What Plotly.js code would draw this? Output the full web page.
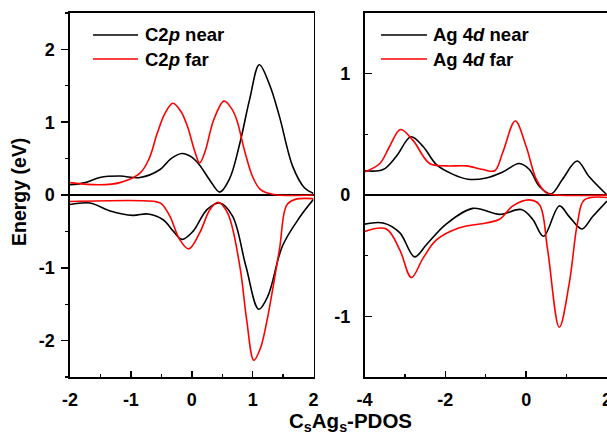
<!DOCTYPE html>
<html>
<head>
<meta charset="utf-8">
<script src="https://cdn.plot.ly/plotly-3.0.1.min.js"></script>
<style>html,body{margin:0;padding:0;background:#fff}#chart{width:607px;height:437px}</style>
</head>
<body>
<div id="chart"></div>
<script>
// ---- C2p PDOS (left panel) ----
const c2pNearUpE   = [-2, -1.75, -1.51, -1.18, -0.85, -0.52, -0.34, -0.16, 0.0, 0.13, 0.3, 0.46, 0.62, 0.79, 0.95, 1.11, 1.28, 1.44, 1.66, 1.85, 2];
const c2pNearUpV   = [0.14, 0.17, 0.24, 0.26, 0.24, 0.35, 0.5, 0.57, 0.52, 0.41, 0.2, 0.04, 0.22, 0.71, 1.31, 1.79, 1.51, 1.08, 0.39, 0.1, 0.02];
const c2pFarUpE    = [-2, -1.51, -1.18, -0.85, -0.7, -0.57, -0.44, -0.31, -0.18, -0.07, 0.05, 0.13, 0.22, 0.36, 0.53, 0.66, 0.74, 0.87, 1.0, 1.12, 1.23, 1.4, 2];
const c2pFarUpV    = [0.17, 0.14, 0.17, 0.30, 0.5, 0.84, 1.12, 1.26, 1.15, 0.94, 0.6, 0.44, 0.6, 1.03, 1.29, 1.18, 1.03, 0.6, 0.25, 0.08, 0.03, 0.0, 0.0];
const c2pNearDnE   = [-2, -1.67, -1.34, -0.97, -0.72, -0.47, -0.3, -0.16, 0.02, 0.25, 0.46, 0.67, 0.89, 1.10, 1.25, 1.49, 1.77, 2];
const c2pNearDnV   = [-0.13, -0.11, -0.22, -0.28, -0.26, -0.34, -0.5, -0.61, -0.50, -0.2, -0.11, -0.29, -0.98, -1.57, -1.39, -0.70, -0.31, -0.06];
const c2pFarDnE    = [-2, -0.6, -0.5, -0.36, -0.2, -0.05, 0.13, 0.3, 0.43, 0.59, 0.79, 0.9, 1.02, 1.13, 1.23, 1.44, 1.56, 1.7, 2];
const c2pFarDnV    = [-0.09, -0.09, -0.12, -0.29, -0.61, -0.74, -0.52, -0.2, -0.10, -0.25, -0.98, -1.7, -2.27, -2.1, -1.75, -0.75, -0.14, -0.06, -0.05];

// ---- Ag 4d PDOS (right panel) ----
const ag4dNearUpE  = [-4, -3.54, -3.21, -2.85, -2.55, -2.22, -1.81, -1.44, -0.99, -0.58, -0.17, 0.08, 0.33, 0.62, 0.90, 1.26, 1.56, 2];
const ag4dNearUpV  = [0.20, 0.21, 0.32, 0.48, 0.40, 0.25, 0.17, 0.13, 0.14, 0.19, 0.26, 0.21, 0.07, 0.01, 0.13, 0.28, 0.15, 0.0];
const ag4dFarUpE   = [-4, -3.62, -3.38, -3.11, -2.80, -2.39, -1.98, -1.48, -1.07, -0.78, -0.58, -0.27, 0.0, 0.25, 0.49, 0.8, 2];
const ag4dFarUpV   = [0.19, 0.26, 0.40, 0.54, 0.45, 0.26, 0.24, 0.24, 0.21, 0.20, 0.35, 0.61, 0.40, 0.13, 0.02, 0.0, 0.0];
const ag4dNearDnE  = [-4, -3.54, -3.13, -2.76, -2.47, -1.98, -1.32, -0.66, -0.12, 0.16, 0.43, 0.82, 1.07, 1.38, 1.64, 2];
const ag4dNearDnV  = [-0.24, -0.23, -0.31, -0.51, -0.41, -0.24, -0.11, -0.16, -0.12, -0.20, -0.34, -0.09, -0.18, -0.28, -0.18, -0.05];
const ag4dFarDnE   = [-4, -3.46, -3.13, -2.84, -2.55, -2.22, -1.65, -0.99, -0.66, -0.33, 0.08, 0.33, 0.53, 0.82, 1.07, 1.27, 1.44, 2];
const ag4dFarDnV   = [-0.30, -0.28, -0.45, -0.68, -0.52, -0.37, -0.27, -0.23, -0.20, -0.09, -0.04, -0.08, -0.45, -1.09, -0.72, -0.23, -0.04, -0.02];

// ---- tick labels (hyphen minus, as in the reference) ----
const xLeftTicks   = [-2, -1, 0, 1, 2];
const xLeftLabels  = ['-2', '-1', '0', '1', '2'];
const yLeftTicks   = [-2, -1, 0, 1, 2];
const yLeftLabels  = ['-2', '-1', '0', '1', '2'];
const xRightTicks  = [-4, -2, 0, 2];
const xRightLabels = ['-4', '-2', '0', '2'];
const yRightTicks  = [-1, 0, 1];
const yRightLabels = ['-1', '0', '1'];

const legendLeft  = ['C2<i>p</i> near', 'C2<i>p</i> far'];
const legendRight = ['Ag 4<i>d</i> near', 'Ag 4<i>d</i> far'];
const yTitle = 'Energy (eV)';
const xTitle = 'C<sub>s</sub>Ag<sub>s</sub>-PDOS';

const W = 607, H = 437;
const px = v => v / W, py = v => 1 - v / H;
const FONT = 'Liberation Sans, Arial, Helvetica, sans-serif';
const BLACK = '#000000', RED = '#ff0000';
const bold = arr => arr.map(s => '<b>' + s + '</b>');

function tr(x, y, color, xa, ya) {
  return {x: x, y: y, type: 'scatter', mode: 'lines', xaxis: xa, yaxis: ya, showlegend: false,
          hoverinfo: 'skip', line: {color: color, width: 1.6, shape: 'spline', smoothing: 1}};
}
const data = [
  tr(c2pNearUpE, c2pNearUpV, BLACK, 'x', 'y'),
  tr(c2pFarUpE, c2pFarUpV, RED, 'x', 'y'),
  tr(c2pNearDnE, c2pNearDnV, BLACK, 'x', 'y'),
  tr(c2pFarDnE, c2pFarDnV, RED, 'x', 'y'),
  tr(ag4dNearUpE, ag4dNearUpV, BLACK, 'x2', 'y2'),
  tr(ag4dFarUpE, ag4dFarUpV, RED, 'x2', 'y2'),
  tr(ag4dNearDnE, ag4dNearDnV, BLACK, 'x2', 'y2'),
  tr(ag4dFarDnE, ag4dFarDnV, RED, 'x2', 'y2')
];

const tickFont = {family: FONT, size: 18, color: '#000', weight: 700};
const yDom = [1 - 377 / H, 1 - 13 / H];
function xAxis(dom, range, tv, tt, minorDtick) {
  return {domain: dom, range: range, tickmode: 'array', tickvals: tv, ticktext: bold(tt),
          showgrid: false, zeroline: false, ticklabeloverflow: 'allow',
          showline: true, linecolor: '#000', linewidth: 1.6, mirror: true,
          ticks: 'inside', ticklen: 6, tickwidth: 1.5, tickcolor: '#000', ticklabelstandoff: 6,
          minor: {dtick: minorDtick, tick0: 0, ticks: 'inside', ticklen: 3, tickwidth: 1.2, tickcolor: '#000', showgrid: false},
          tickfont: tickFont, fixedrange: true};
}
function yAxis(anchor, range, tv, tt, ticks, standoff) {
  return {domain: yDom, anchor: anchor, range: range, tickmode: 'array', tickvals: tv, ticktext: bold(tt),
          showgrid: false, ticklabeloverflow: 'allow',
          zeroline: true, zerolinecolor: '#000', zerolinewidth: 1.6,
          showline: true, linecolor: '#000', linewidth: 1.6, mirror: true,
          ticks: ticks, ticklen: 7, tickwidth: 1.5, tickcolor: '#000', ticklabelstandoff: standoff,
          minor: {dtick: 0.5, tick0: 0, ticks: ticks, ticklen: 3, tickwidth: 1.2, tickcolor: '#000', showgrid: false},
          tickfont: tickFont, fixedrange: true};
}

const shapes = [], annotations = [];
function legendRows(labels, x0, x1, tx) {
  [BLACK, RED].forEach((c, i) => {
    const yy = 35 + i * 24;
    shapes.push({type: 'line', xref: 'paper', yref: 'paper', x0: px(x0), x1: px(x1), y0: py(yy), y1: py(yy),
                 line: {color: c, width: 1.6}});
    annotations.push({xref: 'paper', yref: 'paper', x: px(tx), y: py(yy), xanchor: 'left', yanchor: 'middle',
                      text: '<b>' + labels[i] + '</b>', showarrow: false,
                      font: {family: FONT, size: 18.5, color: '#000'}});
  });
}
legendRows(legendLeft, 93, 138, 143);
legendRows(legendRight, 381, 427, 431);
annotations.push({xref: 'paper', yref: 'paper', x: px(19), y: py(192), textangle: -90,
                  text: '<b>' + yTitle + '</b>', showarrow: false, xanchor: 'center', yanchor: 'middle',
                  font: {family: FONT, size: 19.5, color: '#000'}});
annotations.push({xref: 'paper', yref: 'paper', x: px(350), y: py(422), xanchor: 'center', yanchor: 'middle',
                  text: '<b>' + xTitle + '</b>', showarrow: false,
                  font: {family: FONT, size: 20.5, color: '#000'}});

const layout = {
  width: W, height: H, margin: {l: 0, r: 0, t: 0, b: 0, autoexpand: false},
  paper_bgcolor: '#fff', plot_bgcolor: '#fff', showlegend: false,
  xaxis: Object.assign(xAxis([70 / W, 313.5 / W], [-2, 2], xLeftTicks, xLeftLabels, 0.5), {anchor: 'y'}),
  yaxis: yAxis('x', [-2.5, 2.5], yLeftTicks, yLeftLabels, 'outside', 3),
  xaxis2: Object.assign(xAxis([364.5 / W, 1], [-4, 2], xRightTicks, xRightLabels, 1), {anchor: 'y2'}),
  yaxis2: yAxis('x2', [-1.5, 1.5], yRightTicks, yRightLabels, 'inside', 9),
  shapes: shapes, annotations: annotations
};
Plotly.newPlot('chart', data, layout, {staticPlot: true, displayModeBar: false});
</script>
</body>
</html>
